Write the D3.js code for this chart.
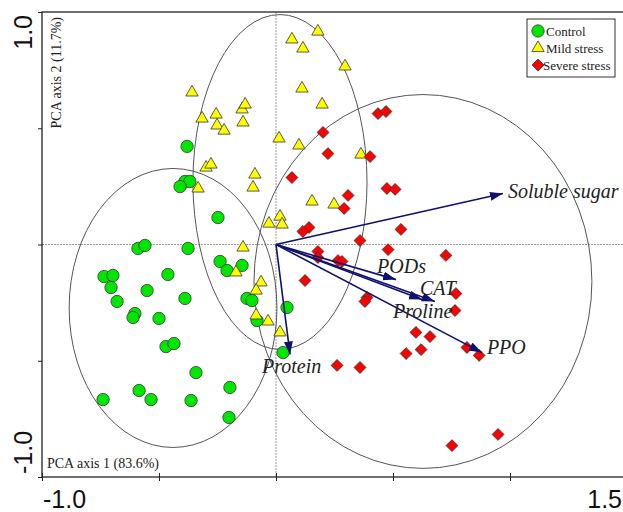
<!DOCTYPE html>
<html>
<head>
<meta charset="utf-8">
<script src="https://cdn.jsdelivr.net/npm/d3@7"></script>
<style>
  body { margin: 0; background: #fff; }
  svg { display: block; }
</style>
</head>
<body>
<svg id="chart" width="623" height="512"></svg>
<script>
// PCA biplot: axis 1 (83.6%) vs axis 2 (11.7%)

// --- data (PCA scores) ---
var groupNames = ["Control", "Mild stress", "Severe stress"];

var controlScores = [
  [-0.380, 0.422], [-0.389, 0.271], [-0.368, 0.271], [-0.410, 0.249], [-0.248, 0.116],
  [-0.590, -0.017], [-0.560, -0.004], [-0.376, -0.017], [-0.239, -0.073], [-0.209, -0.112],
  [-0.145, -0.090], [-0.735, -0.138], [-0.697, -0.133], [-0.462, -0.129], [-0.705, -0.185],
  [-0.551, -0.198], [-0.679, -0.245], [-0.389, -0.232], [-0.603, -0.297], [-0.611, -0.314],
  [-0.500, -0.318], [-0.124, -0.232], [-0.103, -0.241], [0.047, -0.271], [-0.081, -0.327],
  [0.030, -0.465], [-0.470, -0.439], [-0.436, -0.426], [-0.342, -0.551], [-0.197, -0.615],
  [-0.585, -0.628], [-0.534, -0.667], [-0.739, -0.667], [-0.363, -0.671], [-0.201, -0.744]
];

var mildScores = [
  [-0.359, 0.654], [-0.316, 0.542], [-0.256, 0.559], [-0.252, 0.512], [-0.222, 0.490],
  [-0.145, 0.581], [-0.132, 0.602], [-0.141, 0.525], [-0.299, 0.331], [-0.278, 0.344],
  [-0.333, 0.241], [-0.090, 0.301], [-0.098, 0.245], [0.013, 0.456], [0.098, 0.426],
  [0.068, 0.882], [0.115, 0.843], [0.111, 0.671], [0.179, 0.916], [0.295, 0.766],
  [0.197, 0.602], [0.363, 0.387], [0.154, 0.185], [0.248, 0.172], [0.017, 0.120],
  [0.026, 0.086], [-0.030, 0.090], [-0.141, -0.013], [-0.171, -0.120], [-0.064, -0.163],
  [-0.085, -0.198], [-0.085, -0.305], [-0.034, -0.331], [0.017, -0.378]
];

var severeScores = [
  [0.436, 0.563], [0.470, 0.572], [0.201, 0.482], [0.222, 0.391], [0.402, 0.378],
  [0.068, 0.288], [0.474, 0.241], [0.509, 0.237], [0.308, 0.211], [0.291, 0.155],
  [0.534, 0.065], [0.141, 0.073], [0.115, 0.056], [0.359, 0.017], [0.479, -0.022],
  [0.179, -0.030], [0.179, -0.056], [0.265, -0.069], [0.282, -0.073], [0.726, -0.047],
  [0.124, -0.155], [0.389, -0.228], [0.380, -0.245], [0.769, -0.211], [0.765, -0.284],
  [0.598, -0.378], [0.658, -0.396], [0.556, -0.469], [0.620, -0.452], [0.816, -0.443],
  [0.868, -0.477], [0.261, -0.520], [0.359, -0.529], [0.949, -0.817], [0.752, -0.865]
];

// confidence ellipses per group: centre and radii (axis units)
var ellipseCenters = [[-0.440, -0.273], [0.017, 0.269], [0.628, -0.159]];
var ellipseRadii   = [[0.444, 0.600], [0.372, 0.720], [0.722, 0.804]];

// variable loadings (arrows)
var varNames    = ["Soluble sugar", "PODs", "CAT", "Proline", "PPO", "Protein"];
var varLoadings = [[0.970, 0.219], [0.513, -0.151], [0.679, -0.245], [0.624, -0.237], [0.880, -0.465], [0.060, -0.473]];

// axis
var xDomain = [-1.0, 1.5];
var yDomain = [-1.0, 1.0];
var xTicks = [-1.0, -0.5, 0, 0.5, 1.0, 1.5];
var yTicks = [-1.0, -0.5, 0, 0.5, 1.0];
var xEndLabels = ["-1.0", "1.5"];
var yEndLabels = ["-1.0", "1.0"];
var xTitle = "PCA axis 1 (83.6%)";
var yTitle = "PCA axis 2 (11.7%)";

// --- styles ---
var groupFill = ["#00e600", "#ffff00", "#ff0000"];
var arrowColor = "#10106e";
var serif = "'Liberation Serif', 'Times New Roman', serif";
var sans  = "'Liberation Sans', Arial, sans-serif";
// label nudges (px) relative to the arrow tip
var labelNudge = [[5, 4], [-19, -7], [-15, -6], [-29, 18], [5, 1], [-28, 19]];

var svg = d3.select("#chart");

var x = d3.scaleLinear().domain(xDomain).range([42, 627]);
var y = d3.scaleLinear().domain(yDomain).range([477, 12]);

// reference lines through the origin
svg.append("line")
    .attr("x1", x(0)).attr("x2", x(0))
    .attr("y1", y(1)).attr("y2", y(-1))
    .attr("stroke", "#9a9a9a").attr("stroke-width", 1)
    .attr("stroke-dasharray", "2,1");
svg.append("line")
    .attr("x1", x(-1)).attr("x2", x(1.5))
    .attr("y1", y(0)).attr("y2", y(0))
    .attr("stroke", "#9a9a9a").attr("stroke-width", 1)
    .attr("stroke-dasharray", "2,1");

// ellipses
svg.append("g").selectAll("ellipse")
  .data(ellipseCenters)
  .enter().append("ellipse")
    .attr("cx", function(d) { return x(d[0]); })
    .attr("cy", function(d) { return y(d[1]); })
    .attr("rx", function(d, i) { return x(ellipseRadii[i][0]) - x(0); })
    .attr("ry", function(d, i) { return y(0) - y(ellipseRadii[i][1]); })
    .attr("fill", "none")
    .attr("stroke", "#555")
    .attr("stroke-width", 1);

// points
var symbolTypes = [d3.symbolCircle, d3.symbolTriangle, d3.symbolSquare];
var symbolSizes = [120, 66, 70];
var allScores = [controlScores, mildScores, severeScores];

allScores.forEach(function(scores, gi) {
  svg.append("g")
    .selectAll("path")
    .data(scores)
    .enter().append("path")
      .attr("d", d3.symbol().type(symbolTypes[gi]).size(symbolSizes[gi]))
      .attr("transform", function(d) {
        var t = "translate(" + x(d[0]) + "," + y(d[1]) + ")";
        return gi === 2 ? t + " rotate(45)" : t;       // diamond = rotated square
      })
      .attr("fill", groupFill[gi])
      .attr("stroke", "#333")
      .attr("stroke-width", 0.8);
});

// arrows
svg.append("defs").append("marker")
    .attr("id", "head")
    .attr("markerUnits", "userSpaceOnUse")
    .attr("viewBox", "0 -5 13 10")
    .attr("refX", 13).attr("refY", 0)
    .attr("markerWidth", 13).attr("markerHeight", 10)
    .attr("orient", "auto")
  .append("path")
    .attr("d", "M0,-4.5L13,0L0,4.5Z")
    .attr("fill", arrowColor);

svg.append("g").selectAll("line")
  .data(varLoadings)
  .enter().append("line")
    .attr("x1", x(0)).attr("y1", y(0))
    .attr("x2", function(d) { return x(d[0]); })
    .attr("y2", function(d) { return y(d[1]); })
    .attr("stroke", arrowColor)
    .attr("stroke-width", 1.6)
    .attr("marker-end", "url(#head)");

svg.append("g").selectAll("text")
  .data(varLoadings)
  .enter().append("text")
    .attr("x", function(d, i) { return x(d[0]) + labelNudge[i][0]; })
    .attr("y", function(d, i) { return y(d[1]) + labelNudge[i][1]; })
    .attr("font-family", serif)
    .attr("font-style", "italic")
    .attr("font-size", 20)
    .attr("fill", "#222")
    .text(function(d, i) { return varNames[i]; });

// frame + ticks
svg.append("rect")
    .attr("x", x(-1)).attr("y", y(1))
    .attr("width", x(1.5) - x(-1)).attr("height", y(-1) - y(1))
    .attr("fill", "none").attr("stroke", "#222").attr("stroke-width", 1.3);

var xAxis = svg.append("g")
    .attr("transform", "translate(0," + y(-1) + ")")
    .call(d3.axisBottom(x).tickValues(xTicks).tickSize(4).tickFormat(""));
xAxis.selectAll(".tick line").attr("y1", -4).attr("stroke", "#222");
xAxis.select(".domain").remove();

var yAxis = svg.append("g")
    .attr("transform", "translate(" + x(-1) + ",0)")
    .call(d3.axisLeft(y).tickValues(yTicks).tickSize(4).tickFormat(""));
yAxis.selectAll(".tick line").attr("stroke", "#222");
yAxis.select(".domain").remove();

// end labels
svg.append("text")
    .attr("x", x(-1) + 1).attr("y", 508)
    .attr("font-family", sans).attr("font-size", 25).attr("fill", "#111")
    .text(xEndLabels[0]);
svg.append("text")
    .attr("x", 622).attr("y", 508)
    .attr("text-anchor", "end")
    .attr("font-family", sans).attr("font-size", 25).attr("fill", "#111")
    .text(xEndLabels[1]);
svg.append("text")
    .attr("transform", "translate(32," + (y(-1) - 3) + ") rotate(-90)")
    .attr("font-family", sans).attr("font-size", 25).attr("fill", "#111")
    .text(yEndLabels[0]);
svg.append("text")
    .attr("transform", "translate(32," + (y(1) + 3) + ") rotate(-90)")
    .attr("text-anchor", "end")
    .attr("font-family", sans).attr("font-size", 25).attr("fill", "#111")
    .text(yEndLabels[1]);

// axis titles (inside the frame)
svg.append("text")
    .attr("x", x(-1) + 5).attr("y", y(-1) - 9)
    .attr("font-family", serif).attr("font-size", 14).attr("fill", "#222")
    .text(xTitle);
svg.append("text")
    .attr("transform", "translate(" + (x(-1) + 19) + "," + (y(1) + 5) + ") rotate(-90)")
    .attr("text-anchor", "end")
    .attr("font-family", serif).attr("font-size", 14).attr("fill", "#222")
    .text(yTitle);

// legend
var legend = svg.append("g").attr("transform", "translate(527,19)");
legend.append("rect")
    .attr("width", 88).attr("height", 58)
    .attr("fill", "#fff").attr("stroke", "#333").attr("stroke-width", 1);
groupNames.forEach(function(name, gi) {
  var ly = 12 + gi * 17;
  legend.append("path")
      .attr("d", d3.symbol().type(symbolTypes[gi]).size(symbolSizes[gi]))
      .attr("transform", "translate(11," + ly + ")" + (gi === 2 ? " rotate(45)" : ""))
      .attr("fill", groupFill[gi])
      .attr("stroke", "#333").attr("stroke-width", 0.8);
  legend.append("text")
      .attr("x", gi === 2 ? 16 : 19).attr("y", ly + 4.5)
      .attr("font-family", serif).attr("font-size", 13).attr("fill", "#222")
      .text(name);
});
</script>
</body>
</html>
